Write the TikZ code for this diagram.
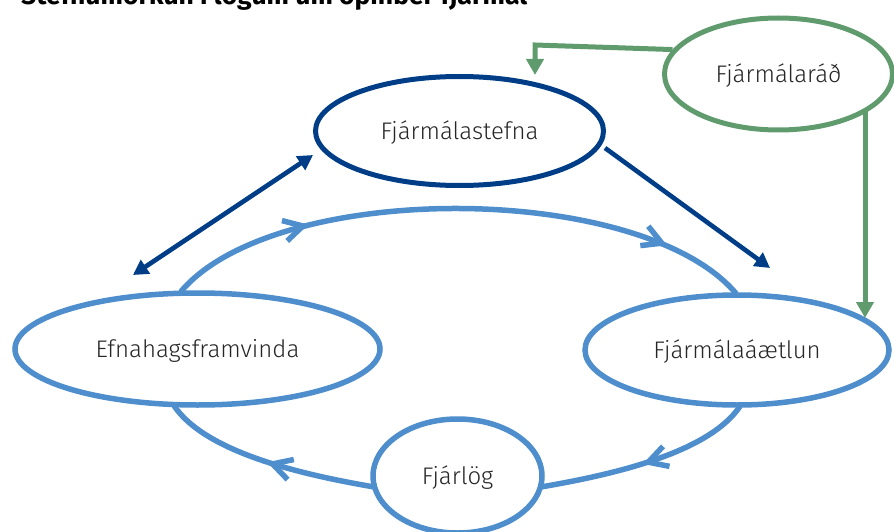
\documentclass[tikz,border=0pt]{standalone}
\usepackage{fontspec}
\setmainfont{Fira Sans}
\IfFontExistsTF{Fira Sans Light}{\newfontfamily\lightfont{Fira Sans Light}}{\newfontfamily\lightfont{Fira Sans}}
\usetikzlibrary{arrows.meta,decorations.markings,shapes.geometric}
\definecolor{dblue}{RGB}{0,61,135}
\definecolor{lblue}{RGB}{79,142,205}
\definecolor{grn}{RGB}{96,155,110}
\definecolor{txt}{RGB}{38,38,38}
\tikzset{
  ell/.style={ellipse, draw, inner sep=0pt, text=txt, text height=16.5pt, text depth=0pt,
    font=\lightfont\fontsize{24}{28}\selectfont},
  darr/.style={draw=dblue, line width=4.6pt},
  garr/.style={draw=grn, line width=5pt, line join=miter, -{Triangle[length=16pt,width=17pt]}},
  cyc/.style={draw=lblue, line width=5.5pt, shorten <=-2pt, shorten >=-2pt},
  chev/.style={postaction={decorate, decoration={markings, mark=at position #1 with
    {\draw[draw=lblue, line width=5.5pt, line join=miter, shorten <=0pt, shorten >=0pt] (-19pt,10.5pt) -- (0pt,0pt) -- (-19pt,-10.5pt);}}}}
}
\begin{document}
\begin{tikzpicture}[x=1pt,y=-1pt]
\useasboundingbox (0,0) rectangle (894,532);
\node[anchor=base west, inner sep=0pt, font=\bfseries\fontsize{26.5}{30}\selectfont, text=black] (title) at (21,5) {Stefnumörkun í lögum um opinber fjármál};

\node[ell, draw=dblue, line width=5pt, minimum width=288pt, minimum height=109pt] (fjs) at (459.5,131) {Fjármálastefna};
\node[ell, draw=grn, line width=5pt, minimum width=228pt, minimum height=112pt] (fjr) at (778.5,74) {Fjármálaráð};
\node[ell, draw=lblue, line width=5.5pt, minimum width=365pt, minimum height=112pt] (efn) at (197.5,349) {Efnahagsframvinda};
\node[ell, draw=lblue, line width=5.5pt, minimum width=304pt, minimum height=110pt] (fjaa) at (737,350) {Fjármálaáætlun};
\node[ell, draw=lblue, line width=5.5pt, minimum width=169pt, minimum height=114pt] (fjl) at (457.5,476) {Fjárlög};

% cycle arcs
\draw[cyc, chev=0.235, chev=0.85] (efn.105) .. controls +(93,-111) and +(-93,-111) .. (fjaa.92);
\draw[cyc, chev=0.5] (fjaa.-88) .. controls +(-30,45) and +(70,-12) .. (fjl.-7);
\draw[cyc, chev=0.47] (fjl.187) .. controls +(-70,-12) and +(30,45) .. (efn.-111);

% dark blue arrows
\coordinate (d1) at (133,275);
\coordinate (d2) at (313,155);
\coordinate (d3) at (605,148);
\coordinate (d4) at (770,268);
\draw[darr, {Triangle[length=15pt,width=16pt]}-{Triangle[length=15pt,width=16pt]}] (d1) -- (d2);
\draw[darr, -{Triangle[length=15pt,width=16pt]}] (d3) -- (d4);

% green arrows
\coordinate (gc) at (535,45);
\coordinate (gt) at (535,75);
\coordinate (gt2) at (865,318);
\draw[garr] (fjr.167) -- (gc) -- (gt);
\draw[garr] (fjr.-23 -| gt2) -- (gt2);
\end{tikzpicture}
\end{document}
